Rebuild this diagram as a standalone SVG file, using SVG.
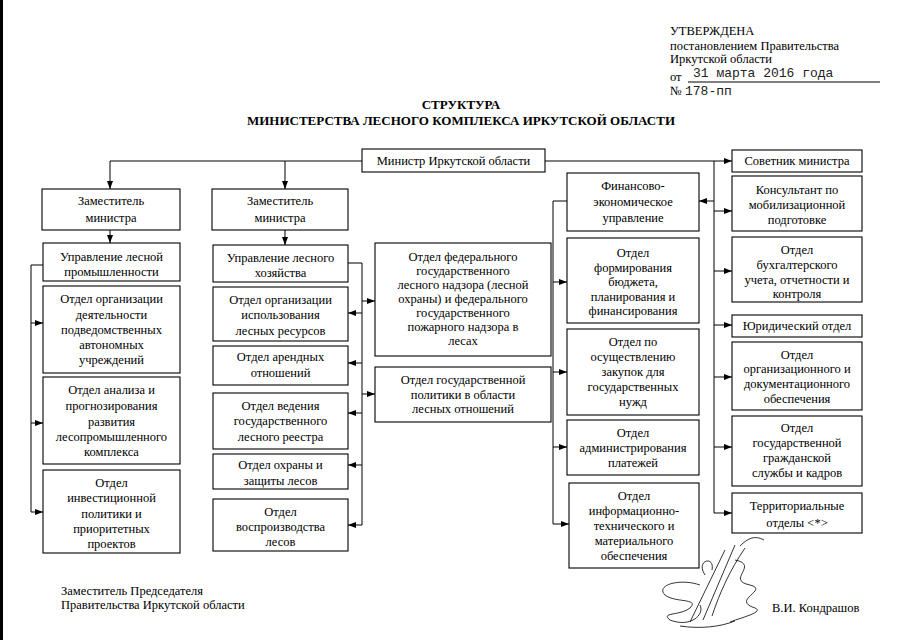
<svg xmlns="http://www.w3.org/2000/svg" width="905" height="640" viewBox="0 0 905 640">
<defs>
<marker id="ar" markerUnits="userSpaceOnUse" markerWidth="8" markerHeight="6" refX="8" refY="3" orient="auto">
<path d="M0,0 L8,3 L0,6 z" fill="#000"/>
</marker>
<style>
.b{fill:#fff;stroke:#000;stroke-width:1.1}
.t{font-family:"Liberation Serif","Times New Roman","DejaVu Serif",serif;font-size:12.5px;fill:#000;text-anchor:middle}
.h{font-family:"Liberation Serif","Times New Roman","DejaVu Serif",serif;font-size:12.5px;fill:#000}
.m{font-family:"Liberation Mono","Courier New",monospace;font-size:13px;fill:#222}
.ti{font-family:"Liberation Serif","Times New Roman","DejaVu Serif",serif;font-size:13px;font-weight:bold;fill:#000;text-anchor:middle}
.c{fill:none;stroke:#000;stroke-width:1}
.a{fill:none;stroke:#000;stroke-width:1;marker-end:url(#ar)}
</style>
</defs>
<rect x="0" y="0" width="905" height="640" fill="#fff"/>
<rect x="0" y="0" width="3" height="640" fill="#000"/>

<g id="header">
<text class="h" x="670" y="35">УТВЕРЖДЕНА</text>
<text class="h" x="670" y="50">постановлением Правительства</text>
<text class="h" x="670" y="63">Иркутской области</text>
<text class="h" x="670" y="81">от</text>
<text class="m" x="693" y="77">31 марта 2016 года</text>
<line class="c" x1="688" y1="82" x2="880" y2="82"/>
<text class="h" x="670" y="95">№</text>
<text class="m" x="685" y="95">178-пп</text>
</g>

<g id="title">
<text class="ti" x="461" y="109">СТРУКТУРА</text>
<text class="ti" x="461" y="125">МИНИСТЕРСТВА ЛЕСНОГО КОМПЛЕКСА ИРКУТСКОЙ ОБЛАСТИ</text>
</g>

<g id="connectors">
<path class="a" d="M362,161 H110 V189"/>
<path class="a" d="M285,161 V189"/>
<path class="a" d="M110,230 V243"/>
<path class="a" d="M285,230 V245"/>
<path class="a" d="M43,265 H31 V512 H43"/>
<path class="a" d="M31,323 H43"/>
<path class="a" d="M31,423 H43"/>
<path class="a" d="M348,263 H362 V525 H348"/>
<path class="a" d="M362,313 H348"/>
<path class="a" d="M362,363 H348"/>
<path class="a" d="M362,413 H348"/>
<path class="a" d="M362,465 H348"/>
<path class="a" d="M362,301 H375"/>
<path class="a" d="M362,394 H375"/>
<path class="a" d="M545,161 H732"/>
<path class="a" d="M714,161 V513 H732"/>
<path class="a" d="M714,211 H732"/>
<path class="a" d="M714,271 H732"/>
<path class="a" d="M714,325 H732"/>
<path class="a" d="M714,377 H732"/>
<path class="a" d="M714,447 H732"/>
<path class="a" d="M714,201 H699"/>
<path class="a" d="M567,201 H553 V524 H569"/>
<path class="a" d="M553,282 H567"/>
<path class="a" d="M553,372 H567"/>
<path class="a" d="M553,447 H567"/>
</g>

<g id="minister"><rect class="b" x="362" y="149" width="183" height="23"/>
<text class="t" x="453.5" y="165">Министр Иркутской области</text></g>

<g id="zam1"><rect class="b" x="42" y="189" width="138" height="41"/>
<text class="t" x="111" y="205">Заместитель</text><text class="t" x="111" y="222">министра</text></g>
<g id="upr1"><rect class="b" x="43" y="243" width="137" height="38"/>
<text class="t" x="111.5" y="261">Управление лесной</text><text class="t" x="111.5" y="276">промышленности</text></g>
<g id="l1"><rect class="b" x="43" y="286" width="137" height="87"/>
<text class="t" x="111.5" y="303">Отдел организации</text><text class="t" x="111.5" y="319">деятельности</text><text class="t" x="111.5" y="334">подведомственных</text><text class="t" x="111.5" y="349">автономных</text><text class="t" x="111.5" y="364">учреждений</text></g>
<g id="l2"><rect class="b" x="43" y="377" width="137" height="87"/>
<text class="t" x="111.5" y="394">Отдел анализа и</text><text class="t" x="111.5" y="410">прогнозирования</text><text class="t" x="111.5" y="426">развития</text><text class="t" x="111.5" y="441">лесопромышленного</text><text class="t" x="111.5" y="456">комплекса</text></g>
<g id="l3"><rect class="b" x="43" y="470" width="137" height="83"/>
<text class="t" x="111.5" y="487">Отдел</text><text class="t" x="111.5" y="502">инвестиционной</text><text class="t" x="111.5" y="518">политики и</text><text class="t" x="111.5" y="533">приоритетных</text><text class="t" x="111.5" y="548">проектов</text></g>

<g id="zam2"><rect class="b" x="212" y="189" width="136" height="41"/>
<text class="t" x="280" y="205">Заместитель</text><text class="t" x="280" y="222">министра</text></g>
<g id="upr2"><rect class="b" x="213" y="245" width="135" height="37"/>
<text class="t" x="280.5" y="262">Управление лесного</text><text class="t" x="280.5" y="277">хозяйства</text></g>
<g id="m1"><rect class="b" x="213" y="287" width="135" height="54"/>
<text class="t" x="280.5" y="304">Отдел организации</text><text class="t" x="280.5" y="319">использования</text><text class="t" x="280.5" y="335">лесных ресурсов</text></g>
<g id="m2"><rect class="b" x="213" y="346" width="135" height="39"/>
<text class="t" x="280.5" y="361">Отдел арендных</text><text class="t" x="280.5" y="377">отношений</text></g>
<g id="m3"><rect class="b" x="213" y="393" width="135" height="56"/>
<text class="t" x="280.5" y="410">Отдел ведения</text><text class="t" x="280.5" y="425">государственного</text><text class="t" x="280.5" y="441">лесного реестра</text></g>
<g id="m4"><rect class="b" x="213" y="454" width="135" height="35"/>
<text class="t" x="280.5" y="469">Отдел охраны и</text><text class="t" x="280.5" y="485">защиты лесов</text></g>
<g id="m5"><rect class="b" x="213" y="499" width="135" height="52"/>
<text class="t" x="280.5" y="516">Отдел</text><text class="t" x="280.5" y="531">воспроизводства</text><text class="t" x="280.5" y="546">лесов</text></g>

<g id="r1"><rect class="b" x="375" y="243" width="176" height="113"/>
<text class="t" x="463" y="261">Отдел федерального</text><text class="t" x="463" y="275">государственного</text><text class="t" x="463" y="289">лесного надзора (лесной</text><text class="t" x="463" y="303">охраны) и федерального</text><text class="t" x="463" y="317">государственного</text><text class="t" x="463" y="331">пожарного надзора в</text><text class="t" x="463" y="345">лесах</text></g>
<g id="r2"><rect class="b" x="375" y="367" width="176" height="55"/>
<text class="t" x="463" y="384">Отдел государственной</text><text class="t" x="463" y="399">политики в области</text><text class="t" x="463" y="413">лесных отношений</text></g>

<g id="fin"><rect class="b" x="567" y="173" width="132" height="58"/>
<text class="t" x="633" y="190">Финансово-</text><text class="t" x="633" y="206">экономическое</text><text class="t" x="633" y="222">управление</text></g>
<g id="f1"><rect class="b" x="567" y="238" width="132" height="85"/>
<text class="t" x="633" y="257">Отдел</text><text class="t" x="633" y="271.5">формирования</text><text class="t" x="633" y="286">бюджета,</text><text class="t" x="633" y="300.5">планирования и</text><text class="t" x="633" y="315">финансирования</text></g>
<g id="f2"><rect class="b" x="567" y="329" width="132" height="86"/>
<text class="t" x="633" y="346">Отдел по</text><text class="t" x="633" y="361">осуществлению</text><text class="t" x="633" y="376">закупок для</text><text class="t" x="633" y="391">государственных</text><text class="t" x="633" y="406">нужд</text></g>
<g id="f3"><rect class="b" x="567" y="420" width="132" height="55"/>
<text class="t" x="633" y="437">Отдел</text><text class="t" x="633" y="452">администрирования</text><text class="t" x="633" y="467">платежей</text></g>
<g id="f4"><rect class="b" x="569" y="483" width="130" height="85"/>
<text class="t" x="634" y="500">Отдел</text><text class="t" x="634" y="515">информационно-</text><text class="t" x="634" y="530">технического и</text><text class="t" x="634" y="545">материального</text><text class="t" x="634" y="560">обеспечения</text></g>

<g id="s0"><rect class="b" x="732" y="150" width="130" height="22"/>
<text class="t" x="797" y="165">Советник министра</text></g>
<g id="s1"><rect class="b" x="732" y="176" width="130" height="55"/>
<text class="t" x="797" y="194">Консультант по</text><text class="t" x="797" y="209">мобилизационной</text><text class="t" x="797" y="224">подготовке</text></g>
<g id="s2"><rect class="b" x="732" y="237" width="130" height="65"/>
<text class="t" x="797" y="254">Отдел</text><text class="t" x="797" y="269">бухгалтерского</text><text class="t" x="797" y="284">учета, отчетности и</text><text class="t" x="797" y="298">контроля</text></g>
<g id="s3"><rect class="b" x="732" y="315" width="130" height="22"/>
<text class="t" x="797" y="330">Юридический отдел</text></g>
<g id="s4"><rect class="b" x="732" y="342" width="130" height="68"/>
<text class="t" x="797" y="359">Отдел</text><text class="t" x="797" y="373">организационного и</text><text class="t" x="797" y="388">документационного</text><text class="t" x="797" y="403">обеспечения</text></g>
<g id="s5"><rect class="b" x="732" y="416" width="130" height="70"/>
<text class="t" x="797" y="432">Отдел</text><text class="t" x="797" y="447">государственной</text><text class="t" x="797" y="462">гражданской</text><text class="t" x="797" y="477">службы и кадров</text></g>
<g id="s6"><rect class="b" x="732" y="493" width="130" height="40"/>
<text class="t" x="797" y="510">Территориальные</text><text class="t" x="797" y="527">отделы &lt;*&gt;</text></g>

<g id="footer">
<text class="h" x="61" y="595">Заместитель Председателя</text>
<text class="h" x="61" y="609">Правительства Иркутской области</text>
<text class="h" x="772" y="612">В.И. Кондрашов</text>
<path d="M700,585 C680,578 655,585 665,595 C675,603 700,598 690,608 C680,616 660,612 670,620 C690,628 705,615 700,605 M690,622 L725,550 M703,620 L735,545 M712,616 C720,592 730,570 745,548 M735,560 C760,565 725,580 750,585 C770,590 730,600 755,608 C765,612 740,618 730,622 M740,546 C748,538 755,535 764,540 M680,626 C700,629 720,627 735,621 M705,575 C695,560 715,555 712,570" fill="none" stroke="#000" stroke-width="0.8"/>
</g>
</svg>
